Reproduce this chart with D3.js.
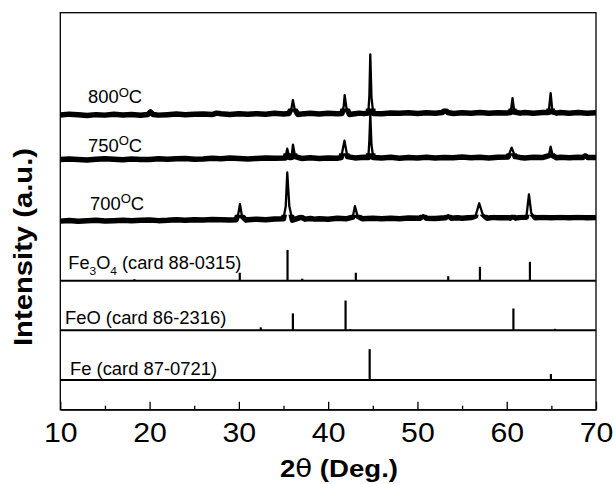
<!DOCTYPE html>
<html>
<head>
<meta charset="utf-8">
<script src="https://cdn.jsdelivr.net/npm/d3@7"></script>
<style>
  body { margin: 0; background: #fff; }
  svg { display: block; }
  text { font-family: "Liberation Sans", Arial, sans-serif; fill: #000; }
</style>
</head>
<body>
<svg id="chart" width="613" height="484"></svg>
<script>
// ---- Data ---------------------------------------------------------------
// X axis ticks (2θ, degrees)
const xMajorTicks = [10, 20, 30, 40, 50, 60, 70];
const xMinorTicks = [15, 25, 35, 45, 55, 65];

// Measured XRD scans: [2θ, intensity above the scan's own baseline]
const scan800 = [
  [10,0],[11,0.8],[12,0.2],[13,-0.6],[14,0.3],[15,-0.2],[16,0.6],[17,0],[18,0.4],[19,-0.3],[19.8,0.5],[20.1,3],[20.4,0.5],
  [21,-0.2],[22,0.3],[23,0.9],[24,0.2],[25,0.8],[26,1],[27,0.4],[27.5,1.8],[28,1.2],[29,0.5],[30,1.2],[31,0.6],[32,1.3],[33,0.7],
  [34,1.6],[35,1],[35.6,1.5],[35.9,7],[36.05,15],[36.25,6],[36.6,0.5],[37,1],[38,1.7],[39,1],[40,1.8],[41,1.2],[41.55,1.5],
  [41.75,9],[41.85,20],[42.05,7],[42.4,0.5],[43,1.2],[43.5,1.8],[44,1.3],[44.5,2],[44.62,20],[44.72,61],[44.85,18],[45.05,1.5],
  [46,1.2],[47,2],[48,1.6],[49,2.3],[50,1.5],[51,2.2],[52,1.8],[52.8,2.5],[53.1,5],[53.4,2.5],[54,1.5],[55,2.3],[56,1.8],
  [57,2.4],[58,1.7],[59,2.3],[60,2],[60.45,2.5],[60.65,17],[60.85,3],[61.5,1.8],[62,2.5],[63,1.7],[64,2.4],[64.7,2.5],
  [64.92,22],[65.12,3],[65.6,1.8],[66,2.4],[67,1.8],[68,2.4],[69,1.7],[70,2.2]
];
const scan750 = [
  [10,0],[11,0.7],[12,0.2],[13,-0.4],[14,0.3],[15,0.9],[16,0.4],[17,-0.2],[18,0.6],[19,0.2],[20,0],[21,0.8],[22,0.3],
  [23,0.9],[24,1.2],[25,0.4],[26,0.6],[27,1.3],[28,0.9],[29,1.5],[30,1],[31,0.6],[32,1.2],[33,1.6],[34,1.3],[35.2,1.5],
  [35.42,11],[35.65,2],[35.9,2],[36.06,15],[36.3,3],[37,1.2],[38,1.8],[39,1.2],[40,1.7],[41,1.4],[41.45,2],[41.83,19],
  [42.15,3],[43,1.7],[44,2.3],[44.5,2],[44.62,20],[44.72,46],[44.85,15],[45.05,2],[46,1.6],[47,2.3],[48,1.4],[49,2.1],
  [50,1.7],[51,2.4],[52,1.5],[53,2.2],[54,1.8],[55,2.5],[56,1.8],[57,2.3],[58,1.7],[59,2.4],[60.15,2.5],[60.55,12],
  [60.95,3],[61.5,2.2],[62,1.7],[63,2.4],[64,2],[64.72,4],[64.92,13],[65.15,4],[65.6,1.8],[66,2.4],[67,1.8],[68,2.3],
  [68.5,2],[68.8,4],[69.1,2],[70,2.2]
];
const scan700 = [
  [10,0],[11,0.6],[12,-0.2],[13,0.4],[14,0.8],[15,0.1],[16,0.5],[17,1],[18,0.4],[19,0.9],[20,1.2],[21,0.5],[22,0.8],
  [23,1.4],[24,1],[25,1.5],[26,1.1],[27,1.7],[28,1.5],[29,1.1],[29.7,1.5],[29.95,8],[30.12,17],[30.35,5],[30.8,1],
  [31,1.5],[32,1.9],[33,1.4],[34,2.2],[35.0,2.5],[35.25,15],[35.42,49],[35.65,15],[36.0,1],[36.5,2.5],[37.0,4],[37.4,2],
  [38,2.6],[38.5,2],[39,2.5],[40,2],[41,2.8],[42,2.3],[42.75,4],[43.0,15],[43.3,5],[43.8,2.5],[45,3],[46,2.4],[47,3],
  [48,2.5],[49,3.2],[50.3,3],[50.65,6],[51.0,3],[52,2.7],[53.15,3.5],[53.45,6],[53.8,3],[54.5,3.4],[55,3],[56,3.6],
  [56.5,5],[56.92,18],[57.3,7],[57.8,3],[58.5,3.8],[59,3.3],[60,3.6],[60.4,3],[60.7,5],[61.0,3],[61.6,3.8],[62.2,4],
  [62.49,27],[62.75,8],[63.2,3.5],[64,4],[65,3.4],[66,3.9],[67,3.3],[68,3.8],[69,3.3],[70,3.6]
];
const scanOffsets = [297, 252, 190];
const scanTemps = ["800", "750", "700"];

// Reference stick patterns: [2θ, relative intensity]
const cardFe3O4 = [[18.3,1.5],[30.1,8],[35.45,31],[37.1,2],[43.1,8],[53.45,4.5],[57.0,14],[62.6,19]];
const cardFeO   = [[32.45,3],[36.05,17],[41.95,30],[42.5,1],[60.75,22],[65.4,1.5]];
const cardFe    = [[44.65,31],[64.95,6]];
const cardOffsets = [130, 80, 30];
const cardNames = ["88-0315", "86-2316", "87-0721"];

// ---- Layout -------------------------------------------------------------
const svg = d3.select("#chart");
const plotLeft = 60.3, plotRight = 596, plotTop = 12.7, plotBottom = 409.7;

const x = d3.scaleLinear().domain([10, 70]).range([plotLeft, plotRight]);
const y = d3.scaleLinear().domain([0, 400]).range([plotBottom, plotTop]);

// Plot frame
svg.append("rect")
  .attr("x", plotLeft).attr("y", plotTop)
  .attr("width", plotRight - plotLeft).attr("height", plotBottom - plotTop)
  .attr("fill", "none").attr("stroke", "#000").attr("stroke-width", 1.3);

// Bottom axis: inward ticks, large labels
const axisG = svg.append("g").attr("transform", `translate(0,${plotBottom})`);
axisG.call(d3.axisBottom(x).tickValues(xMajorTicks).tickSizeInner(-8).tickSizeOuter(0).tickPadding(12.5).tickFormat(d3.format("d")));
axisG.select(".domain").attr("stroke-width", 1.3);
axisG.selectAll(".tick line").attr("stroke-width", 1.3);
axisG.selectAll(".tick text")
  .attr("font-size", 28).attr("font-family", "Liberation Sans, Arial, sans-serif")
  .attr("transform", "scale(1.08,1)");

const minorG = svg.append("g").attr("transform", `translate(0,${plotBottom})`);
minorG.call(d3.axisBottom(x).tickValues(xMinorTicks).tickSizeInner(-4).tickSizeOuter(0).tickFormat(""));
minorG.select(".domain").remove();
minorG.selectAll(".tick line").attr("stroke-width", 1.3);

// Axis titles
const xTitle = svg.append("text")
  .attr("transform", "translate(339,477) scale(1.15,1)")
  .attr("text-anchor", "middle").attr("font-size", 24).attr("font-weight", "bold");
xTitle.append("tspan").text("2");
xTitle.append("tspan").attr("font-family", "DejaVu Sans, sans-serif").attr("font-weight", "normal").text("θ");
xTitle.append("tspan").text(" (Deg.)");

svg.append("text")
  .attr("transform", "translate(32,247) rotate(-90)")
  .attr("text-anchor", "middle").attr("font-size", 26).attr("font-weight", "bold")
  .attr("textLength", 198).attr("lengthAdjust", "spacingAndGlyphs")
  .text("Intensity (a.u.)");

// ---- Measured scans -----------------------------------------------------
// Each scan: a thin trace for the full profile, plus a heavier stroke of the
// same trace restricted to a strip around its baseline (the dense noise band).
const defs = svg.append("defs");
const scans = [scan800, scan750, scan700];
scans.forEach((scan, i) => {
  const off = scanOffsets[i];
  const path = d3.line().x(d => x(d[0])).y(d => y(off + d[1]))(scan);
  const clipId = `band-${i}`;
  defs.append("clipPath").attr("id", clipId).append("rect")
    .attr("x", plotLeft).attr("width", plotRight - plotLeft)
    .attr("y", y(off + 6.5)).attr("height", y(off - 4) - y(off + 6.5));
  svg.append("path")
    .attr("d", path).attr("clip-path", `url(#${clipId})`)
    .attr("fill", "none").attr("stroke", "#000")
    .attr("stroke-width", 5.5).attr("stroke-linejoin", "round");
  svg.append("path")
    .attr("d", path)
    .attr("fill", "none").attr("stroke", "#000")
    .attr("stroke-width", 2.3).attr("stroke-linejoin", "round");
});

// Temperature labels
const tempPos = [[88, 103.3], [88, 151.7], [90, 210]];
scanTemps.forEach((t, i) => {
  const lab = svg.append("text")
    .attr("transform", `translate(${tempPos[i][0]},${tempPos[i][1]}) scale(1.05,1)`)
    .attr("font-size", 17.5);
  lab.append("tspan").text(t);
  lab.append("tspan").attr("font-size", 12.5).attr("dy", -6.6).text("O");
  lab.append("tspan").attr("dy", 6.6).text("C");
});

// ---- Reference cards ----------------------------------------------------
const cards = [cardFe3O4, cardFeO, cardFe];
cards.forEach((card, i) => {
  const off = cardOffsets[i];
  svg.append("line")
    .attr("x1", x(10)).attr("x2", x(70))
    .attr("y1", y(off)).attr("y2", y(off))
    .attr("stroke", "#000").attr("stroke-width", 2);
  svg.append("g").selectAll("line").data(card).join("line")
    .attr("x1", d => x(d[0])).attr("x2", d => x(d[0]))
    .attr("y1", y(off)).attr("y2", d => y(off + d[1]))
    .attr("stroke", "#000").attr("stroke-width", 2.2);
});

// Card labels
const fe3o4 = svg.append("text")
  .attr("transform", "translate(68.3,269) scale(1.04,1)").attr("font-size", 17.5);
fe3o4.append("tspan").text("Fe");
fe3o4.append("tspan").attr("font-size", 11.5).attr("dy", 6).text("3");
fe3o4.append("tspan").attr("dy", -6).text("O");
fe3o4.append("tspan").attr("font-size", 11.5).attr("dy", 6).text("4");
fe3o4.append("tspan").attr("dy", -6).text(` (card ${cardNames[0]})`);

svg.append("text")
  .attr("transform", "translate(65,324) scale(1.05,1)").attr("font-size", 17.5)
  .text(`FeO (card ${cardNames[1]})`);

svg.append("text")
  .attr("transform", "translate(70,375) scale(1.05,1)").attr("font-size", 17.5)
  .text(`Fe (card ${cardNames[2]})`);
</script>
</body>
</html>
